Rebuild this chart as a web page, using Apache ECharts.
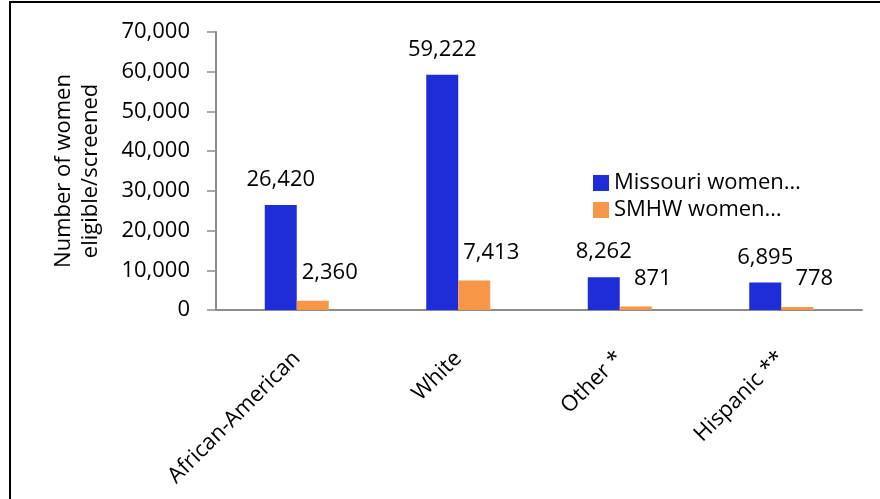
<!DOCTYPE html>
<html lang="en">
<head>
    <meta charset="UTF-8">
    <script src="https://cdn.jsdelivr.net/npm/echarts@6/dist/echarts.min.js"></script>
    <title>Women eligible/screened</title>
    <style>
        *{ margin: 0; padding: 0; }
        #chart{ width: 880px; height: 499px; background: #fff; }
    </style>
</head>
<body>
    <div id="chart"></div>
<script>
    var categories = ['African-American', 'White', 'Other *', 'Hispanic **'];
    var missouriWomen = [26420, 59222, 8262, 6895];
    var smhwWomen = [2360, 7413, 871, 778];
    var seriesNames = ['Missouri women\u2026', 'SMHW women\u2026'];
    var yTicks = [0, 10000, 20000, 30000, 40000, 50000, 60000, 70000];

    var font = 'Open Sans';
    var fs = 22;
    var fmt = function (v) { return v.toLocaleString('en-US'); };

    var chart = echarts.init(document.getElementById('chart'));
    var option = {
        backgroundColor: '#fff',
        animation: false,
        textStyle: { fontFamily: font, color: '#000' },
        // frame round the picture (only top and left show)
        graphic: [{
            type: 'rect',
            shape: { x: 10, y: 2, width: 1000, height: 1000 },
            style: { fill: 'none', stroke: '#000', lineWidth: 2 }
        }],
        grid: { left: 216, right: 18, top: 32, bottom: 189 },
        legend: {
            orient: 'vertical',
            left: 593,
            top: 172,
            padding: 0,
            icon: 'rect',
            itemWidth: 16,
            itemHeight: 16,
            itemGap: 5,
            textStyle: { fontFamily: font, fontSize: fs, color: '#000' },
            data: seriesNames
        },
        xAxis: {
            type: 'category',
            data: categories,
            axisLine: { lineStyle: { color: '#8c8c8c', width: 2 } },
            axisTick: { show: false },
            axisLabel: {
                rotate: 45,
                margin: 45,
                fontFamily: font,
                fontSize: fs,
                color: '#000'
            }
        },
        yAxis: {
            type: 'value',
            min: yTicks[0],
            max: yTicks[yTicks.length - 1],
            interval: 10000,
            name: 'Number of women\neligible/screened',
            nameLocation: 'middle',
            nameGap: 112,
            nameTextStyle: { fontFamily: font, fontSize: fs, color: '#000', lineHeight: 27 },
            axisLine: { show: true, lineStyle: { color: '#8c8c8c', width: 2 } },
            axisTick: { show: true, length: 9, lineStyle: { color: '#8c8c8c', width: 1.5 } },
            splitLine: { show: false },
            axisLabel: {
                margin: 26,
                fontFamily: font,
                fontSize: fs,
                color: '#000',
                formatter: fmt
            }
        },
        series: [{
            name: seriesNames[0],
            type: 'bar',
            data: missouriWomen,
            barWidth: 32,
            barGap: '0%',
            itemStyle: { color: '#1f2dd9' },
            label: {
                show: true,
                position: 'top',
                distance: 14,
                fontFamily: font,
                fontSize: fs,
                color: '#000',
                formatter: function (p) { return fmt(p.value); }
            }
        }, {
            name: seriesNames[1],
            type: 'bar',
            data: smhwWomen,
            barWidth: 32,
            itemStyle: { color: '#f79646' },
            label: {
                show: true,
                position: 'top',
                distance: 17,
                offset: [17, 0],
                fontFamily: font,
                fontSize: fs,
                color: '#000',
                formatter: function (p) { return fmt(p.value); }
            }
        }]
    };
    chart.setOption(option);
</script>
</body>
</html>
